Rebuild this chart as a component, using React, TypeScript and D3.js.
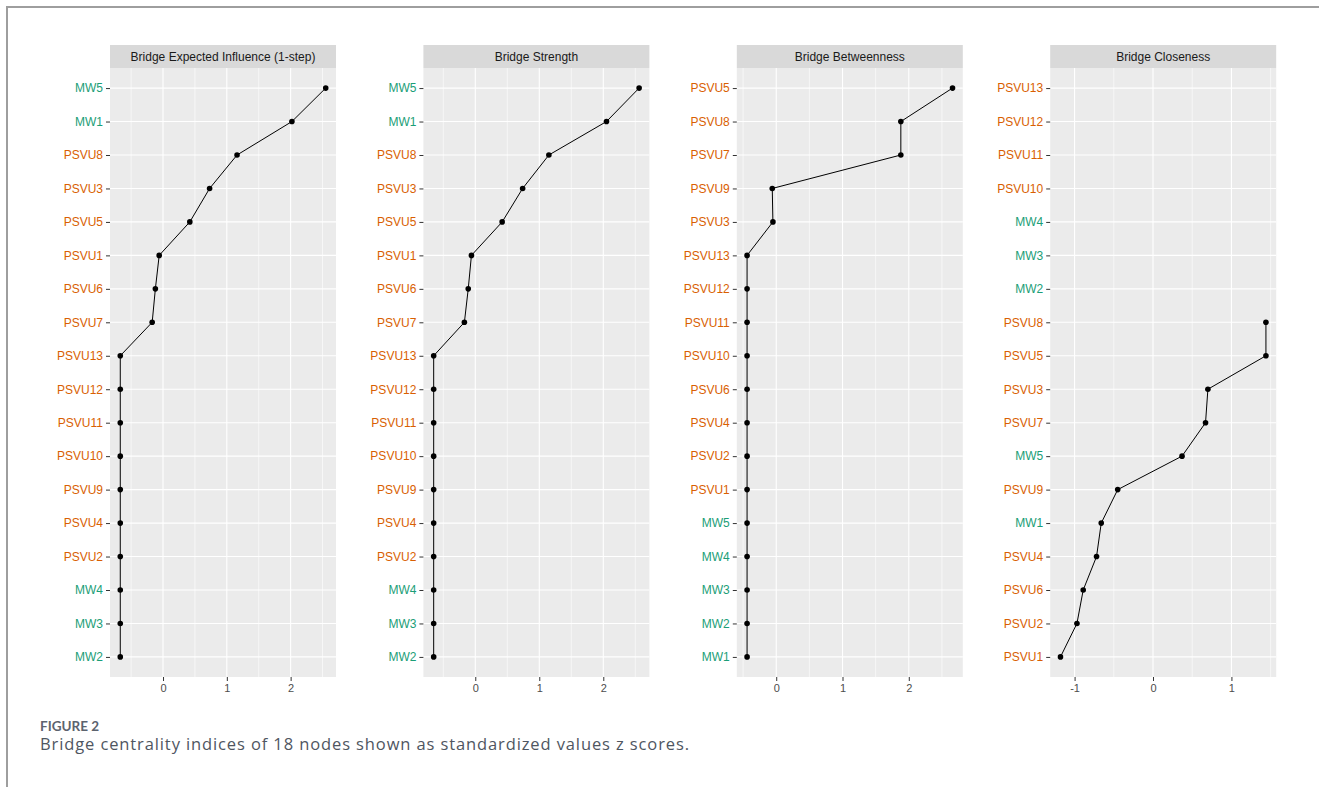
import React, { useEffect, useRef } from 'react';
import * as d3 from 'd3';

// panel titles
const titles = [
  'Bridge Expected Influence (1-step)',
  'Bridge Strength',
  'Bridge Betweenness',
  'Bridge Closeness',
];

// node order top -> bottom in each panel
const nodesEI = ['MW5', 'MW1', 'PSVU8', 'PSVU3', 'PSVU5', 'PSVU1', 'PSVU6', 'PSVU7', 'PSVU13', 'PSVU12', 'PSVU11', 'PSVU10', 'PSVU9', 'PSVU4', 'PSVU2', 'MW4', 'MW3', 'MW2'];
const valuesEI = [2.55, 2.02, 1.16, 0.73, 0.42, -0.06, -0.12, -0.17, -0.67, -0.67, -0.67, -0.67, -0.67, -0.67, -0.67, -0.67, -0.67, -0.67];

const nodesStrength = ['MW5', 'MW1', 'PSVU8', 'PSVU3', 'PSVU5', 'PSVU1', 'PSVU6', 'PSVU7', 'PSVU13', 'PSVU12', 'PSVU11', 'PSVU10', 'PSVU9', 'PSVU4', 'PSVU2', 'MW4', 'MW3', 'MW2'];
const valuesStrength = [2.56, 2.05, 1.15, 0.74, 0.42, -0.06, -0.11, -0.17, -0.65, -0.65, -0.65, -0.65, -0.65, -0.65, -0.65, -0.65, -0.65, -0.65];

const nodesBetween = ['PSVU5', 'PSVU8', 'PSVU7', 'PSVU9', 'PSVU3', 'PSVU13', 'PSVU12', 'PSVU11', 'PSVU10', 'PSVU6', 'PSVU4', 'PSVU2', 'PSVU1', 'MW5', 'MW4', 'MW3', 'MW2', 'MW1'];
const valuesBetween = [2.66, 1.88, 1.88, -0.06, -0.05, -0.44, -0.44, -0.44, -0.44, -0.44, -0.44, -0.44, -0.44, -0.44, -0.44, -0.44, -0.44, -0.44];

const nodesClose = ['PSVU13', 'PSVU12', 'PSVU11', 'PSVU10', 'MW4', 'MW3', 'MW2', 'PSVU8', 'PSVU5', 'PSVU3', 'PSVU7', 'MW5', 'PSVU9', 'MW1', 'PSVU4', 'PSVU6', 'PSVU2', 'PSVU1'];
const valuesClose = [null, null, null, null, null, null, null, 1.44, 1.44, 0.70, 0.67, 0.37, -0.45, -0.66, -0.72, -0.89, -0.97, -1.18];

const xTicks = [[0, 1, 2], [0, 1, 2], [0, 1, 2], [-1, 0, 1]];

const panels = [
  { title: titles[0], nodes: nodesEI, values: valuesEI, ticks: xTicks[0] },
  { title: titles[1], nodes: nodesStrength, values: valuesStrength, ticks: xTicks[1] },
  { title: titles[2], nodes: nodesBetween, values: valuesBetween, ticks: xTicks[2] },
  { title: titles[3], nodes: nodesClose, values: valuesClose, ticks: xTicks[3] },
];

const nodeColor = (n: string) => (n.startsWith('MW') ? '#1b9e77' : '#d95f02');
const axisFont = '"Liberation Sans", Arial, sans-serif';

const App = () => {
  const svgRef = useRef<SVGSVGElement>(null);

  useEffect(() => {
    const W = 1319, H = 787;
    const svg = d3.select(svgRef.current);
    svg.selectAll('*').remove();
    svg.attr('width', W).attr('height', H);

    svg.append('rect').attr('width', W).attr('height', H).attr('fill', '#fff');

    // page frame
    svg.append('path')
      .attr('d', `M7,${H} V7 H${W}`)
      .attr('fill', 'none')
      .attr('stroke', '#9e9e9e')
      .attr('stroke-width', 2);

    const stripTop = 45, stripH = 23;
    const plotTop = stripTop + stripH, plotBottom = 677;
    const panelW = 226;
    const lefts = d3.range(panels.length).map(i => 110 + i * 313.4);

    panels.forEach((p, i) => {
      const g = svg.append('g').attr('transform', `translate(${lefts[i]},0)`);

      const vals = p.values.filter(v => v != null) as number[];
      const [lo, hi] = d3.extent(vals) as [number, number];
      const pad = (hi - lo) * 0.05;
      const x = d3.scaleLinear().domain([lo - pad, hi + pad]).range([0, panelW]);

      const y = d3.scalePoint<string>()
        .domain(p.nodes)
        .range([plotTop, plotBottom])
        .padding(0.6);

      // strip
      g.append('rect')
        .attr('y', stripTop).attr('width', panelW).attr('height', stripH)
        .attr('fill', '#d9d9d9');
      g.append('text')
        .attr('x', panelW / 2).attr('y', stripTop + stripH / 2 + 4)
        .attr('text-anchor', 'middle')
        .attr('font-family', axisFont)
        .attr('font-size', 12)
        .attr('fill', '#1a1a1a')
        .text(p.title);

      // panel background
      g.append('rect')
        .attr('y', plotTop).attr('width', panelW).attr('height', plotBottom - plotTop)
        .attr('fill', '#ebebeb');

      // minor grid
      const step = p.ticks[1] - p.ticks[0];
      const minor = d3.range(p.ticks[0] - step * 1.5, p.ticks[p.ticks.length - 1] + step * 2, step)
        .filter(v => v > x.domain()[0] && v < x.domain()[1]);
      g.selectAll('.minor').data(minor).enter().append('line')
        .attr('class', 'minor')
        .attr('x1', d => x(d)).attr('x2', d => x(d))
        .attr('y1', plotTop).attr('y2', plotBottom)
        .attr('stroke', '#fff').attr('stroke-width', 0.6);

      // major grid
      g.selectAll('.vmajor').data(p.ticks).enter().append('line')
        .attr('class', 'vmajor')
        .attr('x1', d => x(d)).attr('x2', d => x(d))
        .attr('y1', plotTop).attr('y2', plotBottom)
        .attr('stroke', '#fff').attr('stroke-width', 1.1);
      g.selectAll('.hmajor').data(p.nodes).enter().append('line')
        .attr('class', 'hmajor')
        .attr('x1', 0).attr('x2', panelW)
        .attr('y1', d => y(d)!).attr('y2', d => y(d)!)
        .attr('stroke', '#fff').attr('stroke-width', 1.1);

      // y axis
      const yAxis = g.append('g').call(d3.axisLeft(y).tickSize(4).tickPadding(3));
      yAxis.select('.domain').remove();
      yAxis.selectAll('line').attr('stroke', '#333');
      yAxis.selectAll('text')
        .attr('font-family', axisFont)
        .attr('font-size', 12)
        .attr('fill', (d: any) => nodeColor(d));

      // x axis
      const xAxis = g.append('g')
        .attr('transform', `translate(0,${plotBottom})`)
        .call(d3.axisBottom(x).tickValues(p.ticks).tickFormat(d => String(d)).tickSize(4).tickPadding(3));
      xAxis.select('.domain').remove();
      xAxis.selectAll('line').attr('stroke', '#333');
      xAxis.selectAll('text')
        .attr('font-family', axisFont)
        .attr('font-size', 11)
        .attr('fill', '#4d4d4d');

      // line + points
      const pts = p.nodes.map((n, k) => ({ n, v: p.values[k] })).filter(d => d.v != null) as { n: string; v: number }[];
      const line = d3.line<{ n: string; v: number }>().x(d => x(d.v)).y(d => y(d.n)!);
      g.append('path').attr('d', line(pts)!).attr('fill', 'none').attr('stroke', '#000').attr('stroke-width', 1);
      g.selectAll('.dot').data(pts).enter().append('circle')
        .attr('class', 'dot')
        .attr('cx', d => x(d.v)).attr('cy', d => y(d.n)!)
        .attr('r', 2.8).attr('fill', '#000');
    });

    // caption
    svg.append('text')
      .attr('x', 40).attr('y', 731)
      .attr('font-family', 'Lato, "Open Sans", sans-serif')
      .attr('font-weight', 'bold')
      .attr('font-size', 13.5)
      .attr('fill', '#5c636e')
      .text('FIGURE 2');
    svg.append('text')
      .attr('x', 40).attr('y', 750)
      .attr('font-family', '"Open Sans", Lato, sans-serif')
      .attr('font-size', 16.5)
      .attr('textLength', 649)
      .attr('lengthAdjust', 'spacing')
      .attr('fill', '#4f5661')
      .text('Bridge centrality indices of 18 nodes shown as standardized values z scores.');
  }, []);

  return <svg ref={svgRef} style={{ position: 'absolute', left: 0, top: 0, display: 'block' }}></svg>;
};

export default App;
